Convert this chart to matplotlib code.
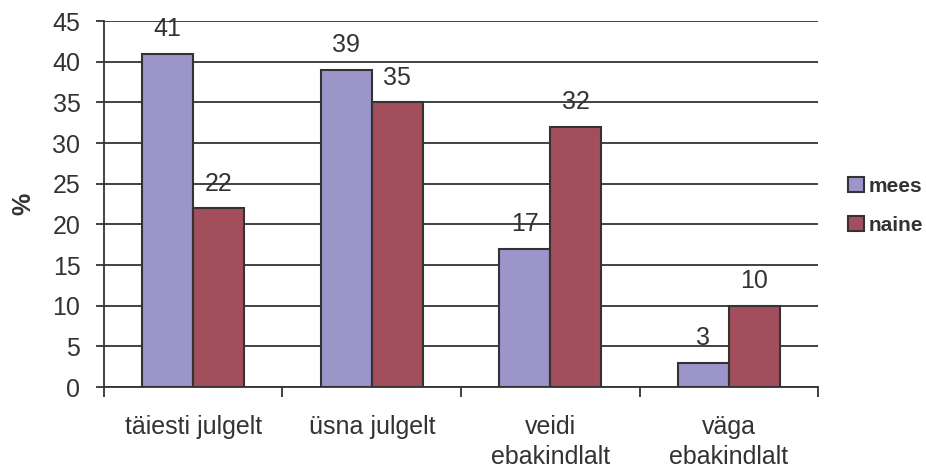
import numpy as np
import matplotlib as mpl
mpl.use('Agg')
import matplotlib.pyplot as plt

plt.rcParams['font.family'] = ['Liberation Sans', 'DejaVu Sans']

categories = ['täiesti julgelt', 'üsna julgelt', 'veidi\nebakindlalt', 'väga\nebakindlalt']
mees = [41, 39, 17, 3]
naine = [22, 35, 32, 10]
yticks = list(range(0, 50, 5))

c_mees = '#9B95C9'
c_naine = '#A24E5C'
dark = '#333333'
fs = 18

fig = plt.figure(figsize=(9.26, 4.71), dpi=100)
ax = fig.add_axes([0.1123, 0.1783, 0.7711, 0.7771])

x = np.arange(len(categories))
w = 0.286
b1 = ax.bar(x - w / 2, mees, w, color=c_mees, edgecolor=dark, linewidth=1.5, zorder=3, label='mees')
b2 = ax.bar(x + w / 2, naine, w, color=c_naine, edgecolor=dark, linewidth=1.5, zorder=3, label='naine')

for bars, vals in ((b1, mees), (b2, naine)):
    for r, v in zip(bars, vals):
        ax.annotate(str(v), (r.get_x() + r.get_width() / 2, v), xytext=(0, 9),
                    textcoords='offset points', ha='center', va='bottom',
                    fontsize=fs, color=dark, zorder=4)

ax.set_xlim(-0.5, len(categories) - 0.5)
ax.set_ylim(0, 45)
ax.set_yticks(yticks)
ax.yaxis.grid(True, color=dark, linewidth=1.3, zorder=1)
ax.set_axisbelow(True)

ax.set_xticks(x)
ax.set_xticklabels(categories, fontsize=fs, color=dark, linespacing=1.35)
ax.set_xticks(np.arange(len(categories) + 1) - 0.5, minor=True)
ax.tick_params(axis='x', which='major', length=0, pad=20)
ax.tick_params(axis='x', which='minor', length=7, width=1.3, color=dark)
ax.tick_params(axis='y', length=6, width=1.3, color=dark, labelsize=fs,
               labelcolor=dark, pad=11)

for s in ('top', 'right'):
    ax.spines[s].set_visible(False)
for s in ('left', 'bottom'):
    ax.spines[s].set_color(dark)
    ax.spines[s].set_linewidth(1.3)

ax.set_ylabel('%', fontsize=fs, fontweight='bold', color=dark, labelpad=12)

leg = fig.legend(handles=[b1, b2], loc='center left', bbox_to_anchor=(0.916, 0.563),
                 frameon=False, prop={'weight': 'bold', 'size': 15},
                 borderaxespad=0, borderpad=0,
                 handlelength=0.75, handleheight=0.75, handletextpad=0.25,
                 labelspacing=0.95)
for t in leg.get_texts():
    t.set_color(dark)

fig.savefig('out.png', dpi=100)
